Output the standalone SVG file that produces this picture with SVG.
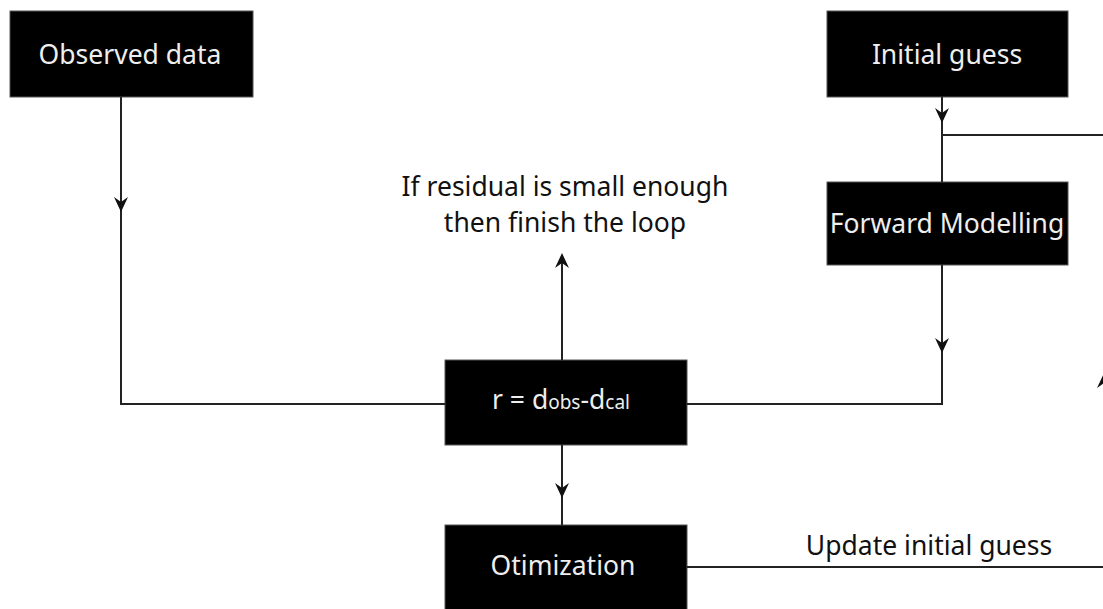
<svg xmlns="http://www.w3.org/2000/svg" width="1103" height="609" viewBox="0 0 1103 609">
<style>
.box{fill:#000;stroke:#555;stroke-width:1}
.bt{fill:#eee;font-family:"Noto Sans","Open Sans",sans-serif;font-size:26.5px;text-anchor:middle}
.lt{fill:#111;font-family:"Noto Sans","Open Sans",sans-serif;font-size:26.5px;text-anchor:middle}
.ln{fill:none;stroke:#222;stroke-width:2}
.ah{fill:#111}
</style>
<defs>
<path id="ahd" d="M0,0 L-7,-15 L0,-10 L7,-15 Z"/>
</defs>
<rect width="1103" height="609" fill="#fff"/>
<g id="observed">
<rect class="box" x="10" y="11" width="243" height="86"/>
<text class="bt" x="130" y="64">Observed data</text>
</g>
<g id="initial">
<rect class="box" x="827" y="11" width="241" height="86"/>
<text class="bt" x="947" y="64">Initial guess</text>
</g>
<g id="forward">
<rect class="box" x="827" y="182" width="241" height="83"/>
<text class="bt" x="947" y="233">Forward Modelling</text>
</g>
<g id="residual">
<rect class="box" x="445" y="360" width="242" height="85"/>
<text class="bt" x="561" y="409">r = d<tspan font-size="19px">obs</tspan>-d<tspan font-size="19px">cal</tspan></text>
</g>
<g id="optimization">
<rect class="box" x="445" y="525" width="242" height="95"/>
<text class="bt" x="563" y="575">Otimization</text>
</g>
<g id="finish-label">
<text class="lt" x="565" y="196" font-size="25px">If residual is small enough</text>
<text class="lt" x="565" y="232" font-size="25px">then finish the loop</text>
</g>
<g id="update-label">
<text class="lt" x="929" y="555">Update initial guess</text>
</g>
<g id="connectors">
<path class="ln" d="M121,97 V404 H445"/>
<path class="ln" d="M942,97 V182"/>
<path class="ln" d="M942,135 H1103"/>
<path class="ln" d="M942,265 V404 H687"/>
<path class="ln" d="M562,360 V260"/>
<path class="ln" d="M562,445 V525"/>
<path class="ln" d="M687,567 H1103"/>
<use class="ah" href="#ahd" transform="translate(121,212)"/>
<use class="ah" href="#ahd" transform="translate(942,123)"/>
<use class="ah" href="#ahd" transform="translate(942,353)"/>
<use class="ah" href="#ahd" transform="translate(562,498)"/>
<use class="ah" href="#ahd" transform="translate(562,253) rotate(180)"/>
<use class="ah" href="#ahd" transform="translate(1104,373) rotate(180)"/>
</g>
</svg>
